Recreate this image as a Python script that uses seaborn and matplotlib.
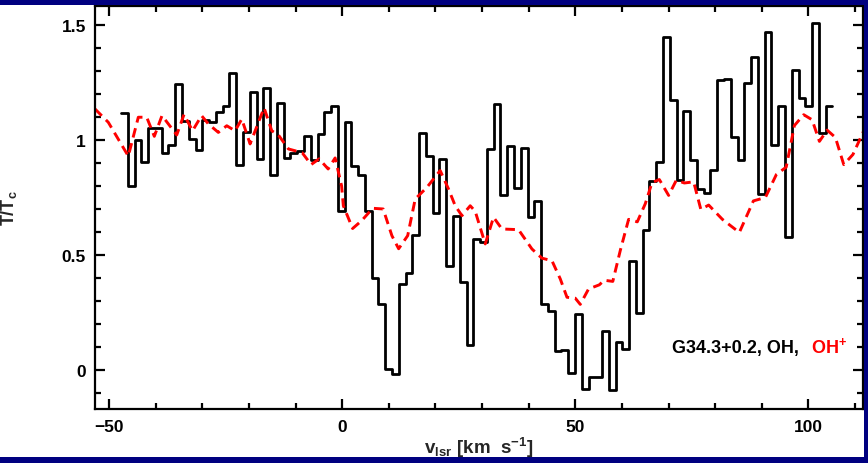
import numpy as np
import pandas as pd
import matplotlib
matplotlib.use("Agg")
import matplotlib.pyplot as plt
import seaborn as sns
from matplotlib.patches import Rectangle
from matplotlib.ticker import MultipleLocator

# ---------------- data ----------------
# OH spectrum: channel edges (km/s) and line-to-continuum values per channel
oh_edges = [-47.42, -45.97, -44.51, -43.06, -41.61, -40.16, -38.70, -37.25, -35.80, -34.34,
            -32.89, -31.44, -29.98, -28.53, -27.08, -25.63, -24.17, -22.72, -21.27, -19.81,
            -18.36, -16.91, -15.45, -14.00, -12.55, -11.10, -9.64, -8.19, -6.74, -5.28,
            -3.83, -2.38, -0.92, 0.53, 1.98, 3.44, 4.89, 6.34, 7.79, 9.25,
            10.70, 12.15, 13.61, 15.06, 16.51, 17.97, 19.42, 20.87, 22.32, 23.78,
            25.23, 26.68, 28.14, 29.59, 31.04, 32.50, 33.95, 35.40, 36.85, 38.31,
            39.76, 41.21, 42.67, 44.12, 45.57, 47.03, 48.48, 49.93, 51.38, 52.84,
            54.29, 55.74, 57.20, 58.65, 60.10, 61.56, 63.01, 64.46, 65.91, 67.37,
            68.82, 70.27, 71.73, 73.18, 74.63, 76.09, 77.54, 78.99, 80.44, 81.90,
            83.35, 84.80, 86.26, 87.71, 89.16, 90.62, 92.07, 93.52, 94.97, 96.43,
            97.88, 99.33, 100.79, 102.24, 103.69, 105.15]
oh_flux = [1.116, 0.800, 1.000, 0.906, 1.052, 1.052, 0.943, 0.978, 1.242, 1.081,
           1.004, 0.957, 1.087, 1.077, 1.123, 1.149, 1.291, 0.891, 1.036, 1.210,
           0.917, 1.225, 0.848, 1.162, 0.920, 0.943, 0.954, 1.019, 0.913, 1.026,
           1.123, 1.149, 0.693, 1.080, 0.888, 0.849, 0.693, 0.399, 0.287, 0.005,
           -0.017, 0.372, 0.422, 0.587, 1.030, 0.929, 0.681, 0.917, 0.452, 0.671,
           0.382, 0.108, 0.570, 0.555, 0.961, 1.157, 0.761, 0.972, 0.791, 0.965,
           0.664, 0.736, 0.287, 0.255, 0.081, 0.087, -0.014, 0.243, -0.083, -0.030,
           -0.030, 0.168, -0.088, 0.122, 0.093, 0.474, 0.249, 0.607, 0.820, 0.904,
           1.450, 1.172, 0.825, 1.125, 0.914, 0.785, 0.768, 0.868, 1.262, 1.266,
           1.014, 0.911, 1.247, 1.359, 0.764, 1.470, 0.980, 1.146, 0.578, 1.305,
           1.184, 1.146, 1.508, 1.029, 1.146]

# OH+ spectrum (red dashed)
ohp_v = [-53.0, -50.15, -45.86, -43.71, -41.91, -40.28, -38.63, -35.47, -33.91, -32.08,
         -30.15, -28.69, -26.55, -24.74, -22.96, -21.52, -19.74, -16.74, -15.09, -13.67,
         -11.52, -8.58, -6.65, -4.94, -3.0, -1.5, -0.11, 0.26, 2.25, 4.23,
         6.55, 8.8, 10.67, 12.12, 14.06, 15.67, 18.18, 21.03, 22.81, 24.25,
         25.69, 27.47, 28.54, 30.69, 32.47, 34.27, 37.83, 40.71, 42.85, 45.0,
         46.78, 48.22, 50.0, 51.07, 52.85, 55.15, 56.22, 58.05, 59.66, 61.44,
         63.3, 65.02, 66.46, 68.03, 70.02, 71.67, 73.39, 75.39, 76.93, 78.61,
         81.55, 83.26, 85.19, 88.2, 90.77, 93.13, 95.24, 97.0, 98.99, 100.79,
         102.36, 104.01, 105.79, 107.58, 109.55, 111.87]
ohp_flux = [1.135, 1.077, 0.930, 1.099, 1.099, 1.016, 1.106, 1.022, 1.111, 1.040,
            1.106, 1.070, 1.033, 1.062, 1.040, 1.091, 0.983, 1.140, 1.040, 1.022,
            0.961, 0.945, 0.893, 0.918, 0.874, 0.922, 0.800, 0.714, 0.615, 0.650,
            0.703, 0.700, 0.584, 0.527, 0.584, 0.743, 0.794, 0.867, 0.787, 0.714,
            0.671, 0.714, 0.690, 0.548, 0.664, 0.613, 0.610, 0.526, 0.486, 0.475,
            0.396, 0.316, 0.312, 0.285, 0.352, 0.370, 0.390, 0.385, 0.520, 0.655,
            0.644, 0.723, 0.815, 0.828, 0.759, 0.825, 0.813, 0.818, 0.698, 0.717,
            0.655, 0.628, 0.598, 0.735, 0.750, 0.850, 0.882, 1.063, 1.110, 1.088,
            0.994, 1.043, 1.011, 0.893, 0.937, 1.040]

xtick_vals = [-50, 0, 50, 100]
xtick_labels = ["\u221250", "0", "50", "100"]
ytick_vals = [0, 0.5, 1, 1.5]
ytick_labels = ["0", "0.5", "1", "1.5"]

# ---------------- style ----------------
sns.set_style("ticks")
plt.rcParams["font.family"] = ["Liberation Sans", "DejaVu Sans"]
plt.rcParams["font.weight"] = "bold"
plt.rcParams["axes.labelweight"] = "bold"
plt.rcParams["mathtext.fontset"] = "custom"
plt.rcParams["mathtext.rm"] = "Liberation Sans:bold"
plt.rcParams["mathtext.it"] = "Liberation Sans:bold"
plt.rcParams["mathtext.bf"] = "Liberation Sans:bold"
plt.rcParams["mathtext.default"] = "regular"

W, H = 868, 464
fig = plt.figure(figsize=(W / 100, H / 100), dpi=100)
fig.patch.set_facecolor("white")
ax = fig.add_axes([95 / W, (H - 410) / H, (862.5 - 95) / W, (410 - 6.5) / H])

df_oh = pd.DataFrame({"v": oh_edges, "flux": oh_flux + [oh_flux[-1]]})
df_ohp = pd.DataFrame({"v": ohp_v, "flux": ohp_flux})

sns.lineplot(data=df_oh, x="v", y="flux", ax=ax, color="black", linewidth=2.0,
             drawstyle="steps-post", estimator=None, sort=False)
sns.lineplot(data=df_ohp, x="v", y="flux", ax=ax, color="#ff0000", linewidth=2.1,
             linestyle=(0, (3.3, 2.0)), estimator=None, sort=False)

ax.set_xlim(-53.0, 111.6)
ax.set_ylim(-0.17, 1.585)

ax.set_xticks(xtick_vals)
ax.set_xticklabels(xtick_labels)
ax.set_yticks(ytick_vals)
ax.set_yticklabels(ytick_labels)
ax.xaxis.set_minor_locator(MultipleLocator(10))
ax.yaxis.set_minor_locator(MultipleLocator(0.1))

ax.tick_params(which="both", direction="in", top=True, right=True,
               width=1.6, color="black", labelsize=12.5, labelcolor="black")
ax.tick_params(which="major", length=7.5)
ax.tick_params(which="minor", length=4.3)
ax.tick_params(axis="y", pad=6.5)
ax.tick_params(axis="x", pad=7)

for s in ax.spines.values():
    s.set_linewidth(1.6)
    s.set_color("black")
    s.set_visible(True)

ax.set_xlabel("v$_{lsr}$ [km  s$^{-1}$]", fontsize=13.5, fontweight="bold")
ax.xaxis.set_label_coords(478.5 / W, (H - 454) / H, transform=fig.transFigure)
ax.xaxis.label.set_verticalalignment("baseline")

ax.set_ylabel("T/T$_{c}$", fontsize=13, fontweight="bold")
ax.yaxis.set_label_coords(14 / W, 1 - 208 / H, transform=fig.transFigure)
ax.yaxis.label.set_verticalalignment("baseline")

ax.text(0.917, 0.1413, "G34.3+0.2, OH,", transform=ax.transAxes, ha="right",
        va="baseline", fontsize=13, color="black")
ax.text(0.933, 0.1413, "OH$^{+}$", transform=ax.transAxes, ha="left",
        va="baseline", fontsize=13, color="#ff0000")

navy = "#000080"
fig.add_artist(Rectangle((0, 1 - 6 / H), 1, 6 / H, transform=fig.transFigure,
                         facecolor=navy, edgecolor="none", zorder=10))
fig.add_artist(Rectangle((0, 0), 1, 6 / H, transform=fig.transFigure,
                         facecolor=navy, edgecolor="none", zorder=10))
fig.add_artist(Rectangle((863.5 / W, 0), 4.5 / W, 1, transform=fig.transFigure,
                         facecolor=navy, edgecolor="none", zorder=10))

fig.savefig("out.png", dpi=100)
